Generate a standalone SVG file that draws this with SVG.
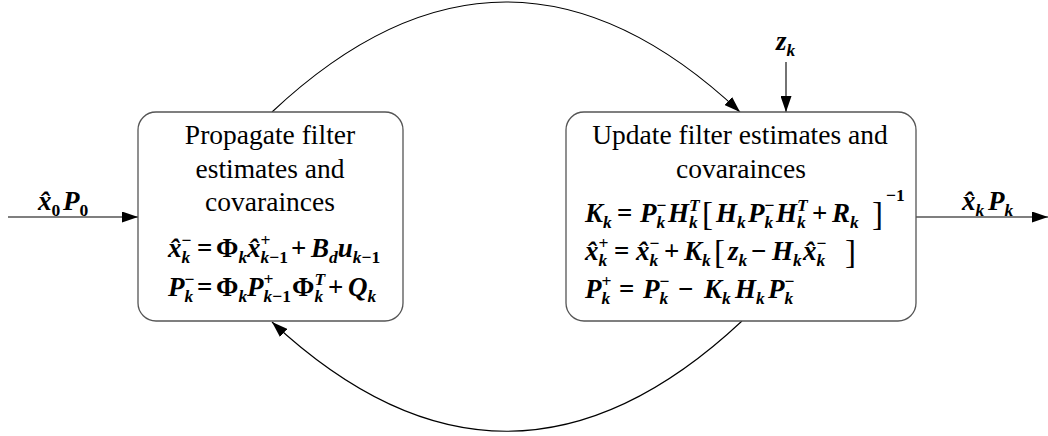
<svg xmlns="http://www.w3.org/2000/svg" width="1048" height="436" viewBox="0 0 1048 436">
<style>
.box{fill:#fff;stroke:#555;stroke-width:1.3}
.ln{fill:none;stroke:#000;stroke-width:1.1}
.t{font-family:"Liberation Serif","Times New Roman",serif;font-size:27.5px;text-anchor:middle;fill:#000}
.m{font-family:"Liberation Serif","Times New Roman",serif;font-size:27px;font-weight:bold;font-style:italic;fill:#000}
.u{font-style:normal}
.s{font-size:17.5px}
.br{font-size:33px;font-weight:normal;font-style:normal}
</style>
<defs>
<marker id="ah" markerUnits="userSpaceOnUse" markerWidth="16" markerHeight="11" refX="16" refY="5.5" orient="auto"><path d="M0,0 L16,5.5 L0,11 z" fill="#000"/></marker>
</defs>
<g id="connectors">
<path class="ln" d="M8,217 H138" marker-end="url(#ah)"/>
<path class="ln" d="M916,217 H1048" marker-end="url(#ah)"/>
<path class="ln" d="M786,62 V112" marker-end="url(#ah)"/>
<path class="ln" d="M272,112 Q506,-108 740,112" marker-end="url(#ah)"/>
<path class="ln" d="M742,321 Q507,541 272,322" marker-end="url(#ah)"/>
</g>
<g id="propagate">
<rect class="box" x="138" y="112" width="265" height="209" rx="18"/>
<text class="t" x="270" y="144">Propagate filter</text>
<text class="t" x="270" y="178">estimates and</text>
<text class="t" x="270" y="211">covarainces</text>
<text class="m" x="168" y="257">x&#x302;<tspan class="s u" y="246">−</tspan><tspan class="s" dx="-10" y="263">k</tspan><tspan class="u" x="197" y="257">=</tspan><tspan class="u" x="216">Φ</tspan><tspan class="s" y="263">k</tspan><tspan x="247" y="257">x&#x302;</tspan><tspan class="s u" y="246">+</tspan><tspan class="s" dx="-10" y="263">k</tspan><tspan class="s u">−1</tspan><tspan class="u" x="291" y="257">+</tspan><tspan x="311">B</tspan><tspan class="s" y="263">d</tspan><tspan y="257">u</tspan><tspan class="s" y="263">k</tspan><tspan class="s u">−1</tspan></text>
<text class="m" x="168" y="296">P<tspan class="s u" y="285">−</tspan><tspan class="s" dx="-10" y="302">k</tspan><tspan class="u" x="197" y="296">=</tspan><tspan class="u" x="216">Φ</tspan><tspan class="s" y="302">k</tspan><tspan x="247" y="296">P</tspan><tspan class="s u" y="285">+</tspan><tspan class="s" dx="-10" y="302">k</tspan><tspan class="s u">−1</tspan><tspan class="u" x="292" y="296">Φ</tspan><tspan class="s" y="285">T</tspan><tspan class="s" dx="-10.7" y="302">k</tspan><tspan class="u" x="328" y="296">+</tspan><tspan x="348">Q</tspan><tspan class="s" y="302">k</tspan></text>
</g>
<g id="update">
<rect class="box" x="566" y="112" width="350" height="209" rx="18"/>
<text class="t" x="740" y="144">Update filter estimates and</text>
<text class="t" x="741" y="178">covarainces</text>
<text class="m" x="585" y="222">K<tspan class="s" y="228">k</tspan><tspan class="u" x="617" y="222">=</tspan><tspan x="640">P</tspan><tspan class="s u" y="211">−</tspan><tspan class="s" dx="-10" y="228">k</tspan><tspan x="668" y="222">H</tspan><tspan class="s" y="211">T</tspan><tspan class="s" dx="-10.7" y="228">k</tspan><tspan class="br" x="702" y="225">[</tspan><tspan x="716" y="222">H</tspan><tspan class="s" y="228">k</tspan><tspan x="748" y="222">P</tspan><tspan class="s u" y="211">−</tspan><tspan class="s" dx="-10" y="228">k</tspan><tspan x="776" y="222">H</tspan><tspan class="s" y="211">T</tspan><tspan class="s" dx="-10.7" y="228">k</tspan><tspan class="u" x="812" y="222">+</tspan><tspan x="832">R</tspan><tspan class="s" y="228">k</tspan><tspan class="br" x="872" y="225">]</tspan><tspan class="s u" x="886" y="201">−1</tspan></text>
<text class="m" x="585" y="260">x&#x302;<tspan class="s u" y="249">+</tspan><tspan class="s" dx="-10" y="266">k</tspan><tspan class="u" x="614" y="260">=</tspan><tspan x="636">x&#x302;</tspan><tspan class="s u" y="249">−</tspan><tspan class="s" dx="-10" y="266">k</tspan><tspan class="u" x="664" y="260">+</tspan><tspan x="684">K</tspan><tspan class="s" y="266">k</tspan><tspan class="br" x="714" y="263">[</tspan><tspan x="728" y="260">z</tspan><tspan class="s" y="266">k</tspan><tspan class="u" x="751" y="260">−</tspan><tspan x="772">H</tspan><tspan class="s" y="266">k</tspan><tspan x="803" y="260">x&#x302;</tspan><tspan class="s u" y="249">−</tspan><tspan class="s" dx="-10" y="266">k</tspan><tspan class="br" x="845" y="263">]</tspan></text>
<text class="m" x="585" y="298">P<tspan class="s u" y="287">+</tspan><tspan class="s" dx="-10" y="304">k</tspan><tspan class="u" x="619" y="298">=</tspan><tspan x="643">P</tspan><tspan class="s u" y="287">−</tspan><tspan class="s" dx="-10" y="304">k</tspan><tspan class="u" x="678" y="298">−</tspan><tspan x="704">K</tspan><tspan class="s" y="304">k</tspan><tspan x="735" y="298">H</tspan><tspan class="s" y="304">k</tspan><tspan x="768" y="298">P</tspan><tspan class="s u" y="287">−</tspan><tspan class="s" dx="-10" y="304">k</tspan></text>
</g>
<g id="labels">
<text class="m" x="38" y="210">x&#x302;<tspan class="s u" y="216">0</tspan><tspan x="63" y="210">P</tspan><tspan class="s u" y="216">0</tspan></text>
<text class="m" x="962" y="210">x&#x302;<tspan class="s" y="216">k</tspan><tspan x="988" y="210">P</tspan><tspan class="s" y="216">k</tspan></text>
<text class="m" x="776" y="50">z<tspan class="s" y="56">k</tspan></text>
</g>
</svg>
